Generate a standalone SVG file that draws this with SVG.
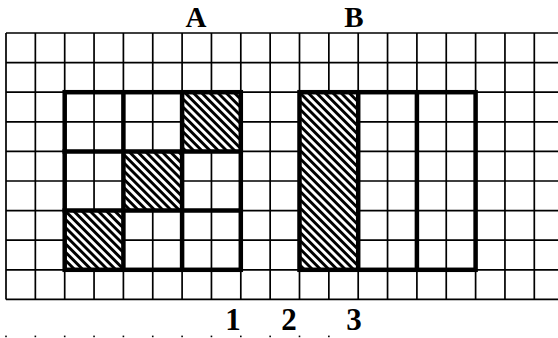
<svg xmlns="http://www.w3.org/2000/svg" width="558" height="338" viewBox="0 0 558 338">
<style>
.thin{stroke:#000;stroke-width:1.7;fill:none}
.thick{stroke:#000;stroke-width:4.5;fill:none;stroke-linecap:square}
.hatch{fill:url(#hatch);stroke:none}
.lbl{font-family:"Liberation Serif","Times New Roman",serif;font-weight:bold;font-size:31px;fill:#000;text-anchor:middle}
.top{font-size:29px}
.dot{fill:#000}
</style>
<defs>
<pattern id="hatch" patternUnits="userSpaceOnUse" width="5.8" height="10" patternTransform="rotate(-45)">
<rect width="5.8" height="10" fill="#fff"/>
<rect width="2.9" height="10" fill="#000"/>
</pattern>
</defs>
<rect width="558" height="338" fill="#fff"/>
<g id="grid" class="thin">
<path d="M6 33H558M6 62.6H558M6 92.2H558M6 121.8H558M6 151.4H558M6 181H558M6 210.6H558M6 240.2H558M6 269.8H558M6 299.4H558"/>
<path d="M6 33V299.4M35.35 33V299.4M64.7 33V299.4M94.05 33V299.4M123.4 33V299.4M152.75 33V299.4M182.1 33V299.4M211.45 33V299.4M240.8 33V299.4M270.15 33V299.4M299.5 33V299.4M328.85 33V299.4M358.2 33V299.4M387.55 33V299.4M416.9 33V299.4M446.25 33V299.4M475.6 33V299.4M504.95 33V299.4M534.3 33V299.4"/>
</g>
<g id="figureA">
<rect class="hatch" x="182.1" y="92.2" width="58.7" height="59.2"/>
<rect class="hatch" x="123.4" y="151.4" width="58.7" height="59.2"/>
<rect class="hatch" x="64.7" y="210.6" width="58.7" height="59.2"/>
<rect class="thick" x="64.7" y="92.2" width="176.1" height="177.6"/>
<path class="thick" d="M123.4 92.2V269.8M182.1 92.2V269.8M64.7 151.4H240.8M64.7 210.6H240.8"/>
<text class="lbl top" x="196" y="27">A</text>
</g>
<g id="figureB">
<rect class="hatch" x="299.5" y="92.2" width="58.7" height="177.6"/>
<rect class="thick" x="299.5" y="92.2" width="176.1" height="177.6"/>
<path class="thick" d="M358.2 92.2V269.8M416.9 92.2V269.8"/>
<text class="lbl top" x="354" y="27">B</text>
</g>
<g id="numbers">
<text class="lbl" x="233" y="330">1</text>
<text class="lbl" x="289" y="330">2</text>
<text class="lbl" x="354" y="330">3</text>
</g>
<g id="dots" class="dot">
<rect x="5.2" y="335.6" width="1.6" height="1.6"/>
<rect x="34.55" y="335.6" width="1.6" height="1.6"/>
<rect x="63.9" y="335.6" width="1.6" height="1.6"/>
<rect x="93.25" y="335.6" width="1.6" height="1.6"/>
<rect x="122.6" y="335.6" width="1.6" height="1.6"/>
<rect x="151.95" y="335.6" width="1.6" height="1.6"/>
<rect x="181.3" y="335.6" width="1.6" height="1.6"/>
<rect x="210.65" y="335.6" width="1.6" height="1.6"/>
<rect x="240" y="335.6" width="1.6" height="1.6"/>
<rect x="269.35" y="335.6" width="1.6" height="1.6"/>
<rect x="298.7" y="335.6" width="1.6" height="1.6"/>
<rect x="328.05" y="335.6" width="1.6" height="1.6"/>
</g>
</svg>
